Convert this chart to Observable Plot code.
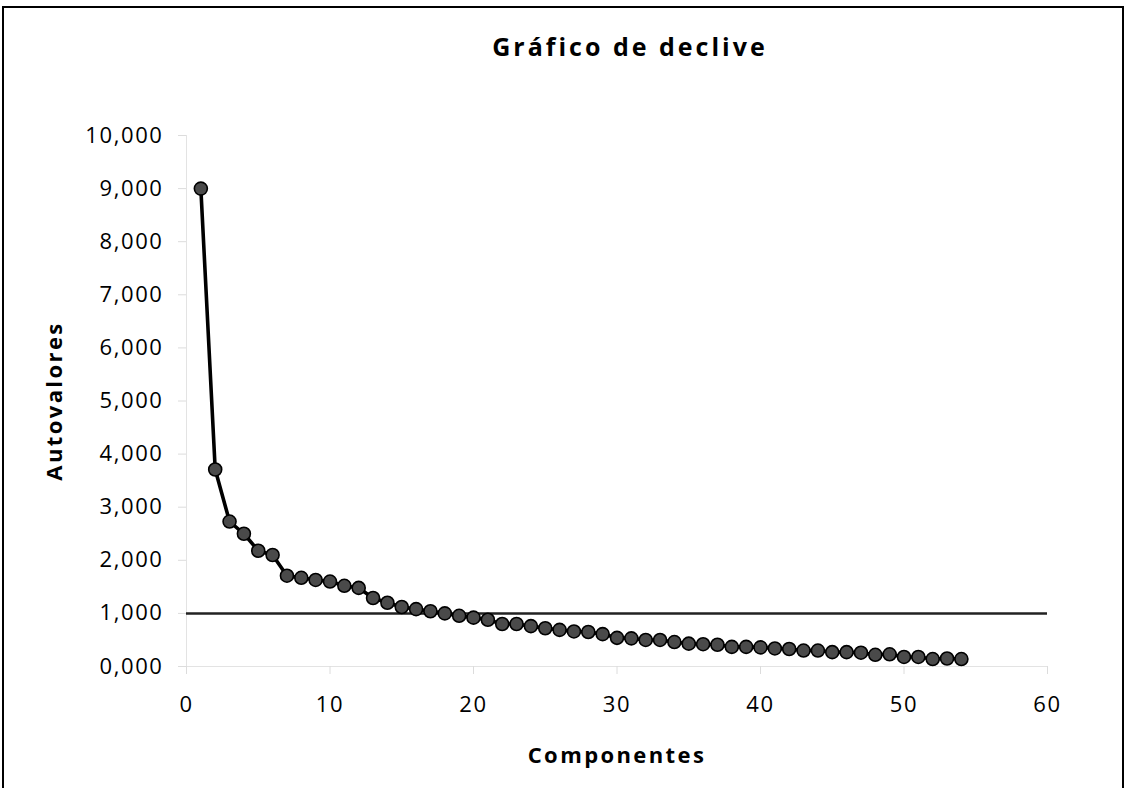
<!DOCTYPE html>
<html>
<head>
<meta charset="utf-8">
<script src="https://cdn.jsdelivr.net/npm/d3@7"></script>
<script src="https://cdn.jsdelivr.net/npm/@observablehq/plot@0.6"></script>
<style>
  html, body { margin: 0; padding: 0; background: #fff; }
  #wrap { position: relative; width: 1128px; height: 788px; overflow: hidden; font-family: "Open Sans", sans-serif; }
  #frame { position: absolute; left: 2px; top: 6px; width: 1122px; height: 800px; border: 2px solid #000; box-sizing: border-box; }
  #title { position: absolute; top: 29px; left: 0; width: 1260px; text-align: center; font-size: 25px; font-weight: bold; letter-spacing: 3px; color: #000; }
  #chart { position: absolute; left: 0; top: 0; }
  #chart svg text { letter-spacing: 1.6px; }
</style>
</head>
<body>
<div id="wrap">
  <div id="frame"></div>
  <div id="title">Gráfico de declive</div>
  <div id="chart"></div>
</div>
<script>
const components = [1,2,3,4,5,6,7,8,9,10,11,12,13,14,15,16,17,18,19,20,21,22,23,24,25,26,27,28,29,30,31,32,33,34,35,36,37,38,39,40,41,42,43,44,45,46,47,48,49,50,51,52,53,54];
const eigenvalues = [9.00,3.71,2.73,2.50,2.18,2.10,1.71,1.67,1.63,1.60,1.52,1.48,1.29,1.20,1.12,1.08,1.04,1.00,0.955,0.92,0.88,0.80,0.80,0.76,0.72,0.69,0.66,0.65,0.61,0.54,0.53,0.50,0.50,0.46,0.43,0.42,0.41,0.37,0.37,0.36,0.34,0.33,0.30,0.30,0.27,0.27,0.26,0.22,0.23,0.18,0.18,0.14,0.15,0.14];
const xTicks = [0,10,20,30,40,50,60];
const yTicks = [0,1,2,3,4,5,6,7,8,9,10];
const threshold = 1;
const xLabel = "Componentes";
const yLabel = "Autovalores";

const data = components.map((c, i) => ({c, v: eigenvalues[i]}));
const fmt = d => d3.format(".3f")(d).replace(".", ",");

const chart = Plot.plot({
  width: 1128,
  height: 788,
  marginLeft: 186,
  marginRight: 81,
  marginTop: 135,
  marginBottom: 122,
  style: {fontFamily: "Open Sans, sans-serif", background: "transparent"},
  x: {domain: [0, 60]},
  y: {domain: [0, 10]},
  marks: [
    Plot.ruleX([0], {stroke: "#e3e3e3", strokeWidth: 1}),
    Plot.ruleY([0], {stroke: "#e3e3e3", strokeWidth: 1}),
    Plot.axisY({ticks: yTicks, tickFormat: fmt, tickSize: 8, tickPadding: 15, stroke: "#dcdcdc", fill: "#000", fontSize: 22,
      label: yLabel, labelAnchor: "center", labelArrow: "none", labelOffset: 140}),
    Plot.axisX({ticks: xTicks, tickFormat: d => String(d), tickSize: 8, tickPadding: 22, stroke: "#dcdcdc", fill: "#000", fontSize: 22,
      label: xLabel, labelAnchor: "center", labelArrow: "none", labelOffset: 96}),
    Plot.ruleY([threshold], {x1: 0, x2: 60, stroke: "#222", strokeWidth: 2.5}),
    Plot.line(data, {x: "c", y: "v", stroke: "#000", strokeWidth: 3.6}),
    Plot.dot(data, {x: "c", y: "v", r: 6.5, fill: "#4a4a4a", stroke: "#000", strokeWidth: 1.6})
  ]
});
chart.querySelectorAll('g[aria-label="x-axis tick label"], g[aria-label="y-axis tick label"]').forEach(g => {
  g.setAttribute("font-size", "22");
});
chart.querySelectorAll('g[aria-label="x-axis label"], g[aria-label="y-axis label"]').forEach(g => {
  g.setAttribute("font-weight", "bold");
  g.setAttribute("font-size", "22");
  g.querySelectorAll("text").forEach(t => t.style.letterSpacing = "2.4px");
});
document.getElementById("chart").appendChild(chart);
</script>
</body>
</html>
